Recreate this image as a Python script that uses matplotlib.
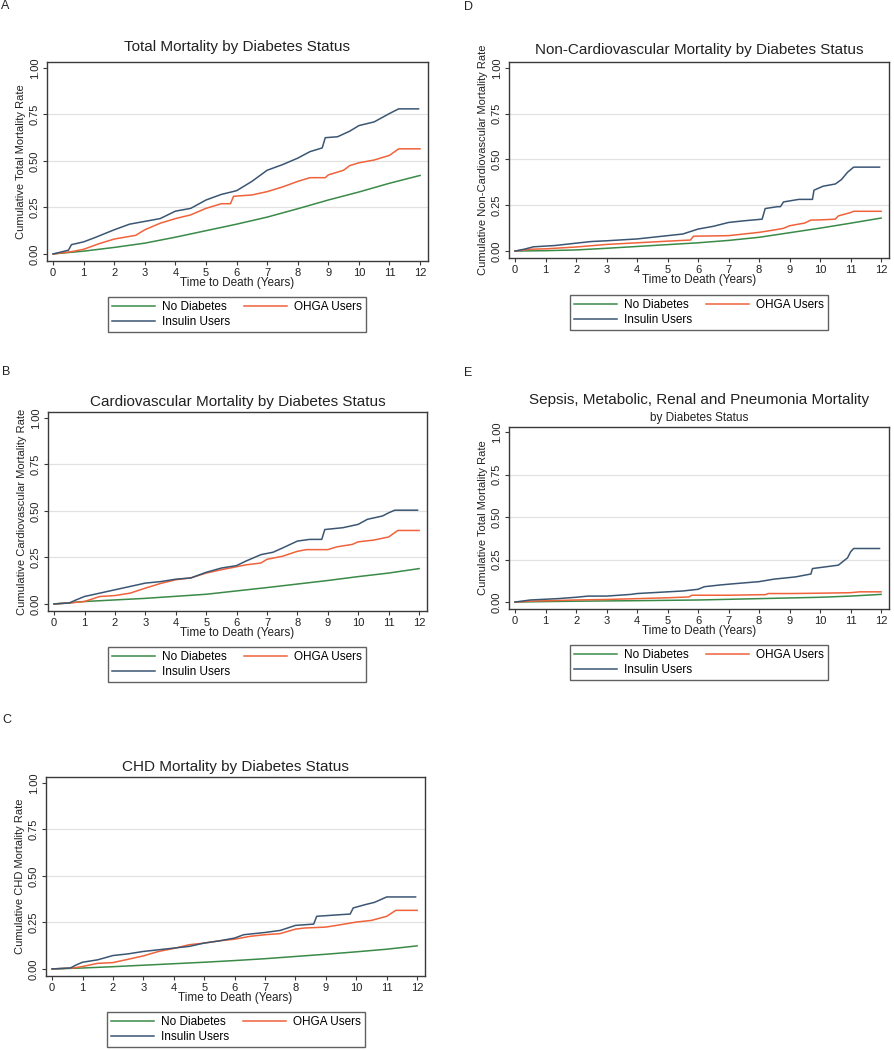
import matplotlib
matplotlib.use('Agg')
import matplotlib.pyplot as plt
import numpy as np

plt.rcParams.update({
    'font.family': ['Liberation Sans', 'DejaVu Sans'],
    'font.size': 8,
})

W, H = 894, 1050

series_names = ['No Diabetes', 'OHGA Users', 'Insulin Users']
series_colors = ['#3a8a48', '#f0623a', '#3b5673']

# ---- Panel A: Total mortality ----
a_none_t = [0, 1, 2, 3, 4, 5, 6, 7, 8, 9, 10, 11, 12]
a_none_y = [0, 0.015, 0.035, 0.058, 0.09, 0.125, 0.16, 0.198, 0.243, 0.29, 0.333, 0.38, 0.422]
a_ohga_t = [0, 0.6, 1.0, 1.5, 2.0, 2.7, 3.0, 3.5, 4.0, 4.5, 5.0, 5.5, 5.8, 5.9, 6.5, 7.0, 7.5, 8.0, 8.4,
            8.9, 9.0, 9.5, 9.7, 10.0, 10.5, 11.0, 11.3, 12.0]
a_ohga_y = [0, 0.012, 0.025, 0.055, 0.08, 0.10, 0.13, 0.165, 0.19, 0.21, 0.245, 0.27, 0.27, 0.31, 0.317,
            0.335, 0.36, 0.39, 0.41, 0.41, 0.425, 0.45, 0.475, 0.49, 0.505, 0.53, 0.565, 0.565]
a_ins_t = [0, 0.5, 0.6, 1.0, 1.4, 2.0, 2.5, 3.0, 3.5, 4.0, 4.5, 5.0, 5.5, 6.0, 6.5, 7.0, 7.5, 8.0, 8.4,
           8.8, 8.9, 9.3, 9.7, 10.0, 10.5, 11.0, 11.3, 11.95]
a_ins_y = [0, 0.02, 0.05, 0.065, 0.09, 0.13, 0.16, 0.175, 0.19, 0.23, 0.245, 0.29, 0.32, 0.34, 0.39, 0.45,
           0.48, 0.515, 0.55, 0.57, 0.625, 0.63, 0.66, 0.69, 0.71, 0.755, 0.78, 0.78]

# ---- Panel B: Cardiovascular mortality ----
b_none_t = [0, 1, 3, 5, 7, 9, 10, 11, 12]
b_none_y = [0, 0.013, 0.03, 0.052, 0.088, 0.126, 0.147, 0.166, 0.19]
b_ohga_t = [0, 0.5, 1.0, 1.5, 2.0, 2.5, 3.0, 3.5, 4.0, 4.5, 5.0, 5.5, 6.0, 6.3, 6.8, 7.0, 7.5, 8.0, 8.3,
            9.0, 9.3, 9.8, 10.0, 10.5, 11.0, 11.3, 12.0]
b_ohga_y = [0, 0.005, 0.013, 0.04, 0.045, 0.058, 0.085, 0.11, 0.13, 0.14, 0.166, 0.184, 0.2, 0.21, 0.22,
            0.24, 0.256, 0.283, 0.292, 0.292, 0.307, 0.32, 0.334, 0.343, 0.36, 0.395, 0.395]
b_ins_t = [0, 0.5, 0.7, 1.0, 1.5, 2.0, 2.5, 3.0, 3.5, 4.0, 4.5, 5.0, 5.5, 6.0, 6.3, 6.8, 7.2, 7.5, 8.0,
           8.4, 8.8, 8.9, 9.5, 10.0, 10.3, 10.8, 11.0, 11.2, 11.95]
b_ins_y = [0, 0.005, 0.02, 0.04, 0.058, 0.076, 0.094, 0.112, 0.12, 0.133, 0.14, 0.17, 0.193, 0.206, 0.23,
           0.265, 0.278, 0.30, 0.338, 0.347, 0.347, 0.40, 0.41, 0.428, 0.455, 0.473, 0.49, 0.504, 0.504]

# ---- Panel C: CHD mortality ----
c_none_t = [0, 1, 2, 3, 4, 5, 6, 7, 8, 9, 10, 11, 12]
c_none_y = [0, 0.005, 0.012, 0.02, 0.028, 0.036, 0.045, 0.055, 0.067, 0.079, 0.092, 0.106, 0.124]
c_ohga_t = [0, 0.7, 1.0, 1.5, 2.0, 2.5, 3.0, 3.5, 4.0, 4.5, 5.0, 5.5, 6.0, 6.5, 7.0, 7.5, 8.0, 8.3, 9.0,
            9.5, 10.0, 10.5, 11.0, 11.3, 12.0]
c_ohga_y = [0, 0.005, 0.013, 0.03, 0.034, 0.052, 0.07, 0.094, 0.11, 0.13, 0.139, 0.151, 0.16, 0.175,
            0.184, 0.19, 0.214, 0.22, 0.225, 0.238, 0.252, 0.261, 0.283, 0.315, 0.315]
c_ins_t = [0, 0.6, 0.8, 1.0, 1.5, 2.0, 2.5, 3.0, 3.5, 4.0, 4.5, 5.0, 5.5, 6.0, 6.3, 7.0, 7.5, 8.0, 8.6,
           8.7, 9.5, 9.8, 9.9, 10.3, 10.6, 11.0, 11.95]
c_ins_y = [0, 0.005, 0.022, 0.036, 0.049, 0.072, 0.081, 0.094, 0.103, 0.112, 0.121, 0.139, 0.151, 0.166,
           0.184, 0.196, 0.207, 0.234, 0.241, 0.283, 0.292, 0.295, 0.328, 0.346, 0.358, 0.387, 0.387]

# ---- Panel D: Non-cardiovascular mortality ----
d_none_t = [0, 1, 2, 3, 4, 5, 6, 7, 8, 9, 10, 11, 12]
d_none_y = [0, 0.002, 0.006, 0.015, 0.025, 0.035, 0.045, 0.058, 0.075, 0.10, 0.125, 0.152, 0.18]
d_ohga_t = [0, 0.5, 1.0, 2.0, 3.0, 4.0, 5.0, 5.75, 5.85, 7.0, 7.5, 8.0, 8.5, 8.8, 9.0, 9.5, 9.7, 10.0,
            10.5, 10.6, 11.0, 11.1, 12.0]
d_ohga_y = [0, 0.01, 0.012, 0.022, 0.036, 0.045, 0.054, 0.06, 0.081, 0.084, 0.093, 0.102, 0.115, 0.124,
            0.138, 0.153, 0.169, 0.17, 0.174, 0.192, 0.21, 0.217, 0.217]
d_ins_t = [0, 0.3, 0.6, 1.0, 1.3, 2.0, 2.5, 3.0, 4.0, 4.5, 5.0, 5.5, 6.0, 6.5, 7.0, 7.5, 8.1, 8.2, 8.6,
           8.7, 8.8, 9.3, 9.75, 9.8, 10.1, 10.5, 10.7, 10.9, 11.1, 11.95]
d_ins_y = [0, 0.01, 0.023, 0.027, 0.03, 0.043, 0.052, 0.056, 0.066, 0.075, 0.084, 0.093, 0.12, 0.135,
           0.156, 0.165, 0.174, 0.232, 0.242, 0.242, 0.268, 0.282, 0.282, 0.332, 0.354, 0.366, 0.39, 0.43,
           0.458, 0.458]

# ---- Panel E: Sepsis, metabolic, renal and pneumonia mortality ----
e_none_t = [0, 2, 4, 6, 8, 10, 11, 12]
e_none_y = [0, 0.005, 0.008, 0.012, 0.02, 0.028, 0.035, 0.045]
e_ohga_t = [0, 0.5, 2.0, 3.0, 4.0, 5.0, 5.7, 5.8, 7.0, 8.0, 8.2, 8.3, 9.0, 10.0, 11.0, 11.3, 12.0]
e_ohga_y = [0, 0.005, 0.012, 0.015, 0.02, 0.025, 0.03, 0.04, 0.04, 0.043, 0.043, 0.05, 0.05, 0.052, 0.055,
            0.06, 0.06]
e_ins_t = [0, 0.5, 1.4, 2.0, 2.4, 3.0, 3.8, 4.0, 5.0, 5.5, 6.0, 6.2, 6.7, 7.0, 8.0, 8.5, 9.2, 9.7, 9.75,
           10.6, 10.9, 11.0, 11.1, 11.95]
e_ins_y = [0, 0.012, 0.02, 0.028, 0.035, 0.035, 0.045, 0.05, 0.06, 0.065, 0.075, 0.09, 0.10, 0.105, 0.12,
           0.135, 0.148, 0.165, 0.197, 0.217, 0.26, 0.295, 0.315, 0.315]

x_ticks = list(range(13))
y_ticks = [0, 0.25, 0.5, 0.75, 1.0]
x_label = 'Time to Death (Years)'


def px_rect(x0, y0, x1, y1):
    return [x0 / W, 1 - y1 / H, (x1 - x0) / W, (y1 - y0) / H]


def draw_panel(fig, rect, data, title, ylabel, title_y, legend_xy, sub=None, ylim=(-0.038, 1.032)):
    ax = fig.add_axes(px_rect(*rect))
    for spine in ax.spines.values():
        spine.set_color('#3a3a3a')
        spine.set_linewidth(1.0)
    for v in [0.25, 0.5, 0.75]:
        ax.axhline(v, color='#e2e2e2', linewidth=0.9, zorder=0)
    handles = []
    for (t, y), c in zip(data, series_colors):
        ln, = ax.plot(t, y, color=c, linewidth=1.1)
        handles.append(ln)
    ax.set_xlim(-0.2, 12.26)
    ax.set_ylim(*ylim)
    ax.set_xticks(x_ticks)
    ax.set_yticks(y_ticks)
    ax.set_yticklabels(['%.2f' % v for v in y_ticks], rotation=90, va='center')
    ax.tick_params(direction='out', length=3, width=0.8, color='#3a3a3a', labelsize=8,
                   labelcolor='#222222', pad=2)
    ax.set_xlabel(x_label, fontsize=8.5, labelpad=-1, color='#222222')
    ax.set_ylabel(ylabel, fontsize=8, labelpad=3, color='#222222')

    cx = (rect[0] + rect[2]) / 2 / W
    fig.text(cx, 1 - title_y / H, title, ha='center', va='center', fontsize=11, color='#222222')
    if sub:
        fig.text(cx, 1 - (title_y + 18) / H, sub, ha='center', va='center', fontsize=8.5, color='#222222')

    order = [0, 2, 1]
    leg = fig.legend([handles[i] for i in order], [series_names[i] for i in order],
                     loc='upper center', bbox_to_anchor=(legend_xy[0] / W, 1 - legend_xy[1] / H),
                     ncol=2, fontsize=8.5, frameon=True, fancybox=False, handlelength=3.6,
                     handletextpad=0.6, columnspacing=1.2, borderpad=0.35, labelspacing=0.25,
                     borderaxespad=0)
    leg.get_frame().set_edgecolor('#3a3a3a')
    leg.get_frame().set_linewidth(1.0)
    return ax


fig = plt.figure(figsize=(W / 100, H / 100), dpi=100)

draw_panel(fig, (47, 62, 428, 261),
           [(a_none_t, a_none_y), (a_ohga_t, a_ohga_y), (a_ins_t, a_ins_y)],
           'Total Mortality by Diabetes Status', 'Cumulative Total Mortality Rate', 47, (237, 297))
draw_panel(fig, (48, 412, 427, 611),
           [(b_none_t, b_none_y), (b_ohga_t, b_ohga_y), (b_ins_t, b_ins_y)],
           'Cardiovascular Mortality by Diabetes Status', 'Cumulative Cardiovascular Mortality Rate',
           402, (237, 647))
draw_panel(fig, (46, 777, 425, 976),
           [(c_none_t, c_none_y), (c_ohga_t, c_ohga_y), (c_ins_t, c_ins_y)],
           'CHD Mortality by Diabetes Status', 'Cumulative CHD Mortality Rate', 767, (236, 1012))
draw_panel(fig, (509, 62, 889, 258),
           [(d_none_t, d_none_y), (d_ohga_t, d_ohga_y), (d_ins_t, d_ins_y)],
           'Non-Cardiovascular Mortality by Diabetes Status', 'Cumulative Non-Cardiovascular Mortality Rate',
           50, (699, 295))
draw_panel(fig, (509, 427, 889, 609),
           [(e_none_t, e_none_y), (e_ohga_t, e_ohga_y), (e_ins_t, e_ins_y)],
           'Sepsis, Metabolic, Renal and Pneumonia Mortality', 'Cumulative Total Mortality Rate',
           400, (699, 645), sub='by Diabetes Status', ylim=(-0.041, 1.03))

for lab, x, y in [('A', 1, 6), ('B', 2, 372), ('C', 2, 720), ('D', 464, 7), ('E', 464, 373)]:
    fig.text(x / W, 1 - y / H, lab, ha='left', va='center', fontsize=9, color='#222222')

fig.savefig('out.png', dpi=100, facecolor='white')
